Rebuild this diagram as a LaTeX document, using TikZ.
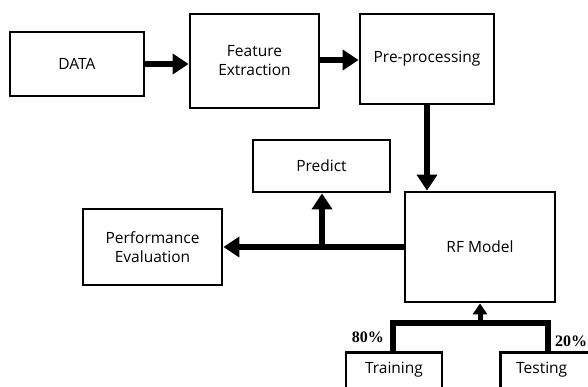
\documentclass[tikz,border=0pt]{standalone}
\usepackage{fontspec}
\setmainfont{Open Sans}
\newfontfamily\pctfont{Liberation Serif}
\usetikzlibrary{arrows.meta}
\begin{document}
\begin{tikzpicture}[x=1pt,y=-1pt,
  box/.style={draw,line width=2.8pt,inner sep=0pt,align=center,font=\fontsize{15.5}{19}\selectfont},
  lbl/.style={font=\fontsize{15.5}{19}\selectfont,inner sep=0pt},
  flow/.style={line width=6.5pt,-{Triangle[length=16pt,width=20pt]}},
  link/.style={line width=5.5pt},
  pct/.style={font=\pctfont\bfseries\fontsize{16}{18}\selectfont,inner sep=0pt}]
\useasboundingbox (0,0) rectangle (588,387);
\clip (0,0) rectangle (588,387);
\node[box,minimum width=134pt,minimum height=64pt] (data) at (77,64) {DATA};
\node[box,minimum width=129pt,minimum height=94pt] (fe) at (254.5,61) {Feature\\Extraction};
\node[box,minimum width=134pt,minimum height=90pt] (pp) at (427,59) {Pre-processing};
\node[box,minimum width=137pt,minimum height=52pt] (pr) at (321.5,166) {Predict};
\node[box,minimum width=139pt,minimum height=76pt] (pe) at (152.5,247) {Performance\\Evaluation};
\node[box,minimum width=150pt,minimum height=110pt] (rf) at (480,247) {RF Model};
\node[box,minimum width=96pt,minimum height=60pt,anchor=north] (tr) at (394,351) {};
\node[lbl] (trl) at (394,370) {Training};
\node[box,minimum width=100pt,minimum height=60pt,anchor=north west] (te) at (499,351) {};
\node[lbl,anchor=west] (tel) at (516,370) {Testing};
\draw[flow] (data.east) -- (fe.west|-data.east);
\draw[flow] (fe.east|-0,60) -- (pp.west|-0,60);
\draw[flow] (pp.south) -- (rf.north-|pp.south);
\coordinate (j) at (322,247);
\draw[flow] (rf.west) -- (pe.east);
\draw[flow] (j) -- (pr.south-|j);
\coordinate (bl) at (393,323);
\coordinate (br) at (548,323);
\coordinate (bm) at (480,323);
\draw[link,line join=miter] (bl|-tr.north) -- (bl) -- (br) -- (br|-te.north);
\draw[line width=5pt,-{Triangle[length=11pt,width=14pt]}] (bm) -- (rf.south);
\node[pct,anchor=east] (p80) at (384,337) {80\%};
\node[pct,anchor=west] (p20) at (555,341) {20\%};
\end{tikzpicture}
\end{document}
